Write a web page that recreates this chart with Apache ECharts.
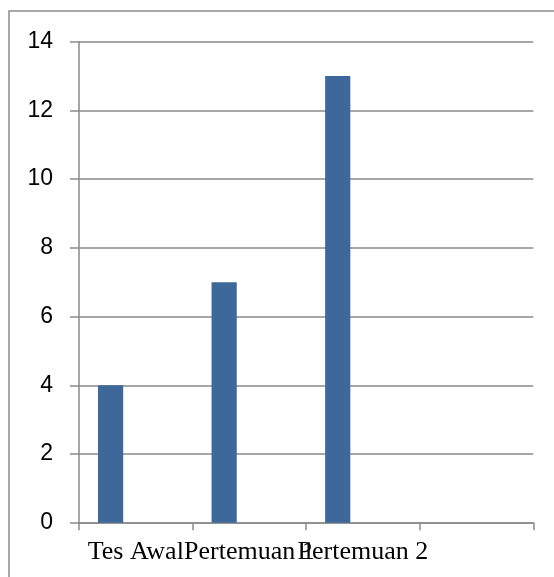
<!DOCTYPE html>
<html>
<head>
<meta charset="utf-8">
<style>
  html, body { margin: 0; padding: 0; background: #ffffff; }
  #chart { width: 554px; height: 577px; }
</style>
<script src="https://cdn.jsdelivr.net/npm/echarts@6/dist/echarts.min.js"></script>
</head>
<body>
<div id="chart"></div>
<script>
// Category slots along the x axis (the last slot is left empty)
const categories = ['Tes Awal', 'Pertemuan 1', 'Pertemuan 2', ''];
// Scores per session; the other two series hold no values
const series1 = [4, 7, 13, '-'];
const series2 = ['-', '-', '-', '-'];
const series3 = ['-', '-', '-', '-'];
// Value axis range
const yMin = 0, yMax = 14, yStep = 2;

const chart = echarts.init(document.getElementById('chart'), null, { renderer: 'canvas' });

const gridColor = '#8a8a8a';
const barColor = '#3e6899';

function barSeries(name, data) {
  return {
    name: name,
    type: 'bar',
    data: data,
    barWidth: 25.2,
    barGap: '0%',
    itemStyle: { color: barColor },
    silent: true
  };
}

chart.setOption({
  animation: false,
  backgroundColor: '#ffffff',
  graphic: [{
    type: 'rect',
    shape: { x: 9, y: 11, width: 700, height: 700 },
    style: { fill: 'none', stroke: '#8c8c8c', lineWidth: 1.5 },
    silent: true
  }],
  grid: { left: 79, right: 20.7, top: 41.7, bottom: 54.3, containLabel: false },
  xAxis: {
    type: 'category',
    data: categories,
    boundaryGap: true,
    axisLine: { show: true, lineStyle: { color: gridColor, width: 1.5 } },
    axisTick: { show: true, alignWithLabel: false, interval: 0, length: 7.5, lineStyle: { color: gridColor, width: 1.5 } },
    axisLabel: {
      interval: 0,
      hideOverlap: false,
      margin: 16,
      color: '#000000',
      fontFamily: '"Liberation Serif", "Times New Roman", serif',
      fontSize: 26
    },
    splitLine: { show: false }
  },
  yAxis: {
    type: 'value',
    min: yMin,
    max: yMax,
    interval: yStep,
    axisLine: { show: true, lineStyle: { color: gridColor, width: 1.5 } },
    axisTick: { show: true, length: 9, lineStyle: { color: gridColor, width: 1.5 } },
    axisLabel: {
      margin: 26,
      color: '#000000',
      fontFamily: '"Liberation Sans", Arial, sans-serif',
      fontSize: 23
    },
    splitLine: { show: true, lineStyle: { color: gridColor, width: 1.5 } }
  },
  series: [
    barSeries('Series1', series1),
    barSeries('Series2', series2),
    barSeries('Series3', series3)
  ]
});
</script>
</body>
</html>
